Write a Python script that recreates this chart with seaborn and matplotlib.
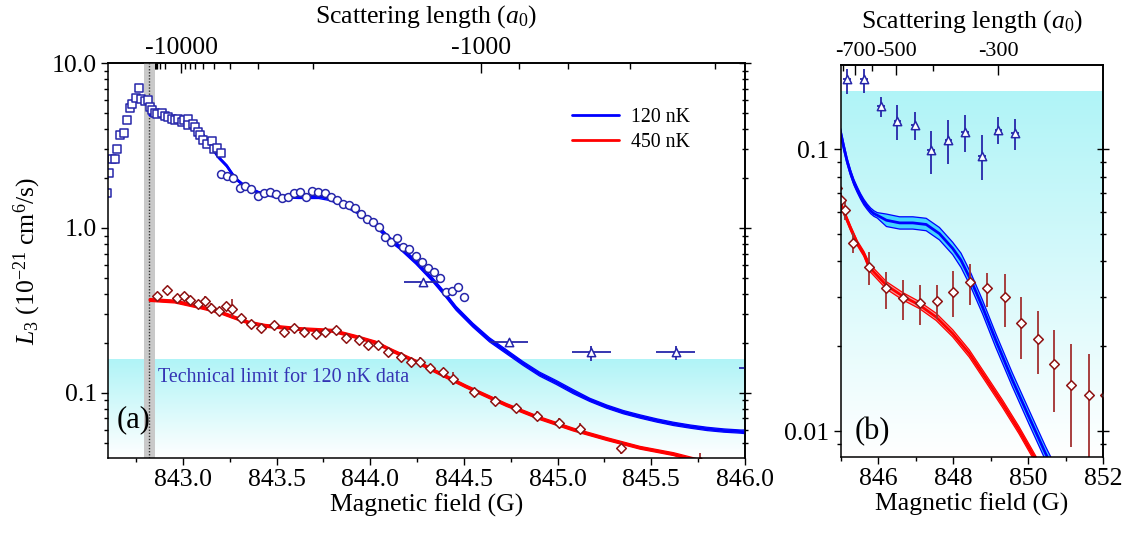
import numpy as np
import matplotlib
matplotlib.use("Agg")
import matplotlib.pyplot as plt
import seaborn as sns
from matplotlib.colors import LinearSegmentedColormap
from matplotlib.lines import Line2D
from matplotlib.ticker import (FixedLocator, MultipleLocator, LogLocator,
                               NullFormatter, FuncFormatter, FixedFormatter)

sns.set_theme(style="ticks")
plt.rcParams["font.family"] = ["Liberation Serif", "DejaVu Serif"]
plt.rcParams["mathtext.fontset"] = "custom"
plt.rcParams["mathtext.rm"] = "Liberation Serif"
plt.rcParams["mathtext.it"] = "Liberation Serif:italic"
plt.rcParams["mathtext.bf"] = "Liberation Serif:bold"
plt.rcParams["text.color"] = "black"
plt.rcParams["axes.labelcolor"] = "black"
plt.rcParams["xtick.color"] = "black"
plt.rcParams["ytick.color"] = "black"
plt.rcParams["axes.edgecolor"] = "black"

# ---------------- data: 120 nK (blue) ----------------
sq_B = [842.595, 842.605, 842.621, 842.638, 842.650, 842.666, 842.684, 842.702,
        842.716, 842.730, 842.748, 842.765, 842.778, 842.797, 842.811, 842.823,
        842.837, 842.853, 842.864, 842.886, 842.904, 842.918, 842.943, 842.957,
        842.975, 842.993, 843.007, 843.025, 843.029, 843.056, 843.065, 843.082,
        843.091, 843.109, 843.127, 843.154, 843.168, 843.184, 843.204]
sq_L = [1.64, 2.15, 2.61, 2.61, 3.02, 3.66, 3.78, 4.51, 5.32, 5.62, 6.16, 7.09,
        6.03, 5.89, 5.97, 5.39, 5.19, 4.96, 4.91, 4.96, 4.77, 4.69, 4.58, 4.51,
        4.58, 4.41, 4.51, 4.56, 4.21, 4.27, 4.08, 3.83, 3.66, 3.41, 3.23, 3.38,
        3.00, 3.05, 2.84]

circ_B = [843.204, 843.234, 843.266, 843.302, 843.333, 843.365, 843.400, 843.431,
          843.463, 843.497, 843.529, 843.561, 843.595, 843.627, 843.657, 843.690,
          843.722, 843.756, 843.788, 843.820, 843.852, 843.886, 843.918, 843.952,
          843.984, 844.016, 844.049, 844.081, 844.111, 844.141, 844.177, 844.209,
          844.244, 844.276, 844.308, 844.340, 844.372, 844.406, 844.438, 844.470,
          844.502]
circ_L = [2.12, 2.07, 2.00, 1.75, 1.80, 1.72, 1.56, 1.62, 1.65, 1.60, 1.51, 1.53,
          1.64, 1.66, 1.55, 1.68, 1.66, 1.64, 1.53, 1.48, 1.40, 1.38, 1.32, 1.21,
          1.13, 1.08, 1.01, 0.878, 0.820, 0.870, 0.764, 0.746, 0.679, 0.625, 0.574,
          0.543, 0.496, 0.408, 0.415, 0.437, 0.383]

tri_B = [844.28, 844.74, 845.18, 845.63, 846.07, 846.51, 846.97, 847.41, 847.87,
         848.31, 848.76, 849.20, 849.64]
tri_L = [0.469, 0.204, 0.177, 0.178, 0.142, 0.126, 0.122, 0.099, 0.108, 0.115,
         0.095, 0.117, 0.114]
tri_lo = [0.455, 0.196, 0.157, 0.158, 0.130, 0.108, 0.108, 0.082, 0.089, 0.098,
          0.078, 0.104, 0.099]
tri_hi = [0.480, 0.212, 0.193, 0.193, 0.153, 0.143, 0.136, 0.116, 0.127, 0.132,
          0.112, 0.130, 0.128]
tri_dB = [0.10, 0.10, 0.105, 0.105, 0.10, 0.10, 0.10, 0.10, 0.10, 0.10, 0.10,
          0.10, 0.10]

# ---------------- data: 450 nK (red) ----------------
dia_B = [842.864, 842.916, 842.966, 843.006, 843.038, 843.082, 843.118, 843.148,
         843.193, 843.231, 843.261, 843.309, 843.363, 843.418, 843.488, 843.542,
         843.591, 843.645, 843.711, 843.761, 843.815, 843.868, 843.940, 843.990,
         844.043, 844.095, 844.163, 844.217, 844.265, 844.319, 844.386, 844.440,
         844.554, 844.667, 844.780, 844.892, 845.006, 845.119, 845.340, 845.758,
         846.219, 846.658, 847.119, 847.578, 848.001, 848.452, 848.910, 849.371,
         849.811, 850.253, 850.695, 851.146, 851.604, 852.050]
dia_L = [0.387, 0.421, 0.375, 0.387, 0.366, 0.346, 0.363, 0.329, 0.315, 0.337,
         0.322, 0.284, 0.262, 0.247, 0.258, 0.233, 0.247, 0.233, 0.228, 0.235,
         0.241, 0.215, 0.210, 0.195, 0.195, 0.178, 0.166, 0.153, 0.155, 0.141,
         0.133, 0.122, 0.101, 0.0898, 0.0808, 0.0729, 0.0661, 0.0608, 0.0466,
         0.0381, 0.0321, 0.0296, 0.0285, 0.0290, 0.0312, 0.0337, 0.0321, 0.0298,
         0.0242, 0.0213, 0.0173, 0.0146, 0.0134, 0.0134]
dia_lo = [0.364, 0.396, 0.353, 0.364, 0.344, 0.325, 0.341, 0.309, 0.296, 0.317,
          0.288, 0.267, 0.246, 0.232, 0.243, 0.219, 0.232, 0.219, 0.214, 0.221,
          0.227, 0.202, 0.197, 0.183, 0.183, 0.167, 0.156, 0.144, 0.146, 0.133,
          0.125, 0.112, 0.095, 0.0844, 0.0760, 0.0685, 0.0621, 0.0562, 0.0428,
          0.0329, 0.0272, 0.0247, 0.0238, 0.0251, 0.0254, 0.0280, 0.0276, 0.0234,
          0.0181, 0.0160, 0.0117, 0.00876, 0.0072, 0.0075]
dia_hi = [0.410, 0.446, 0.398, 0.410, 0.388, 0.367, 0.385, 0.349, 0.334, 0.357,
          0.370, 0.301, 0.278, 0.262, 0.273, 0.247, 0.262, 0.247, 0.242, 0.249,
          0.255, 0.228, 0.223, 0.207, 0.207, 0.189, 0.176, 0.162, 0.164, 0.149,
          0.141, 0.133, 0.107, 0.0952, 0.0856, 0.0773, 0.0701, 0.0655, 0.0504,
          0.0432, 0.0367, 0.0345, 0.0329, 0.0331, 0.0370, 0.0393, 0.0364, 0.0362,
          0.0299, 0.0266, 0.0228, 0.0203, 0.0188, 0.0190]

# ---------------- fitted curves ----------------
blue_B = [842.823, 842.895, 842.975, 843.039, 843.091, 843.145, 843.189, 843.234,
          843.279, 843.333, 843.404, 843.493, 843.618, 843.725, 843.779, 843.850,
          843.940, 844.029, 844.118, 844.154, 844.244, 844.333, 844.404, 844.458,
          844.547, 844.636, 844.726, 844.815, 844.904, 844.994, 845.083, 845.172,
          845.262, 845.351, 845.440, 845.530, 845.619, 845.708, 845.798, 845.887,
          845.976, 846.219, 846.571, 846.923, 847.278, 847.630, 847.983, 848.205,
          848.470, 848.777, 849.132, 849.572, 850.015, 850.457, 850.650]
blue_L = [4.84, 4.77, 4.64, 4.39, 3.93, 3.18, 2.69, 2.38, 2.00, 1.78, 1.64, 1.55,
          1.55, 1.55, 1.51, 1.41, 1.24, 1.04, 0.826, 0.77, 0.62, 0.485, 0.39, 0.326,
          0.258, 0.210, 0.178, 0.151, 0.130, 0.1155, 0.1018, 0.0907, 0.0826, 0.0764,
          0.0719, 0.0680, 0.0649, 0.0625, 0.0605, 0.0591, 0.0583, 0.0560, 0.0548,
          0.0548, 0.0541, 0.0502, 0.0445, 0.0404, 0.0343, 0.0276, 0.0210, 0.0152,
          0.01124, 0.00834, 0.00740]
blue_lo = [4.773, 4.704, 4.576, 4.329, 3.876, 3.136, 2.653, 2.347, 1.972, 1.755,
           1.617, 1.529, 1.508, 1.508, 1.469, 1.372, 1.206, 1.012, 0.804, 0.749,
           0.603, 0.472, 0.379, 0.317, 0.251, 0.204, 0.173, 0.147, 0.1265, 0.1124,
           0.0990, 0.0887, 0.0807, 0.0747, 0.0703, 0.0665, 0.0634, 0.0611, 0.0591,
           0.0578, 0.0570, 0.0532, 0.0521, 0.0521, 0.0514, 0.0477, 0.0423, 0.0381,
           0.0324, 0.0261, 0.0198, 0.0144, 0.01061, 0.00788, 0.00699]
blue_hi = [4.908, 4.837, 4.705, 4.451, 3.985, 3.225, 2.728, 2.413, 2.028, 1.805,
           1.663, 1.572, 1.593, 1.593, 1.552, 1.449, 1.275, 1.069, 0.849, 0.792,
           0.637, 0.499, 0.401, 0.335, 0.265, 0.216, 0.183, 0.155, 0.1336, 0.1187,
           0.1047, 0.0928, 0.0845, 0.0782, 0.0736, 0.0696, 0.0664, 0.0639, 0.0619,
           0.0605, 0.0596, 0.0589, 0.0576, 0.0576, 0.0569, 0.0528, 0.0468, 0.0428,
           0.0363, 0.0292, 0.0222, 0.0161, 0.01190, 0.00883, 0.00784]

red_B = [842.823, 842.957, 843.082, 843.189, 843.261, 843.350, 843.440, 843.618,
         843.797, 843.922, 844.029, 844.118, 844.244, 844.386, 844.512, 844.726,
         844.904, 845.083, 845.262, 845.440, 845.619, 845.776, 846.219, 846.658,
         847.100, 847.543, 847.983, 848.425, 848.868, 849.307, 849.750, 850.102,
         850.250]
red_L = [0.366, 0.358, 0.333, 0.311, 0.290, 0.267, 0.255, 0.244, 0.238, 0.219,
         0.202, 0.180, 0.155, 0.1285, 0.1092, 0.0846, 0.0703, 0.0600, 0.0525,
         0.0465, 0.0425, 0.0380, 0.0329, 0.0301, 0.0280, 0.0254, 0.0222, 0.01886,
         0.01538, 0.01254, 0.01008, 0.00834, 0.00770]
red_lo = [0.3588, 0.3510, 0.3265, 0.3049, 0.2843, 0.2618, 0.2500, 0.2392, 0.2333,
          0.2147, 0.1980, 0.1765, 0.1520, 0.1260, 0.1071, 0.0829, 0.0689, 0.0588,
          0.0515, 0.0456, 0.0417, 0.0369, 0.0319, 0.0292, 0.0272, 0.0247, 0.0216,
          0.01831, 0.01493, 0.01217, 0.00979, 0.00810, 0.00748]
red_hi = [0.3733, 0.3652, 0.3397, 0.3172, 0.2958, 0.2723, 0.2601, 0.2489, 0.2428,
          0.2234, 0.2060, 0.1836, 0.1581, 0.1311, 0.1114, 0.0863, 0.0717, 0.0612,
          0.0536, 0.0474, 0.0434, 0.0391, 0.0339, 0.0310, 0.0288, 0.0262, 0.0229,
          0.01943, 0.01584, 0.01292, 0.01038, 0.00859, 0.00793]

LIMIT_120 = 0.16                      # technical limit for 120 nK data
GRAY_BAND = (842.791, 842.849)        # resonance position uncertainty
RES_CENTER = 842.82

# scattering length a(B) = a_bg - K / (B - B0)
RES_B0, RES_ABG, RES_K = 842.82, -30.7, 1718.0


def field_to_a(B):
    B = np.asarray(B, dtype=float)
    with np.errstate(divide="ignore", invalid="ignore"):
        return RES_ABG - RES_K / (B - RES_B0)


def a_to_field(a):
    a = np.asarray(a, dtype=float)
    with np.errstate(divide="ignore", invalid="ignore"):
        return RES_B0 - RES_K / (a - RES_ABG)


BLUE_EDGE = "#2626aa"
RED_EDGE = "#8e1212"
FS = 18.5
cyan_cmap = LinearSegmentedColormap.from_list("lim", ["#ffffff", "#b0f4f7"])

fig = plt.figure(figsize=(11.26, 5.34), dpi=100)
axa = fig.add_axes([0.0959, 0.1423, 0.5657, 0.7397])
axb = fig.add_axes([0.7466, 0.1442, 0.2334, 0.7341])


def draw_panel(ax, xlim, ylim, gray, major_y):
    frac = ((np.log10(LIMIT_120) - np.log10(ylim[0]))
            / (np.log10(ylim[1]) - np.log10(ylim[0])))
    ax.imshow(np.linspace(0, 1, 256).reshape(-1, 1), cmap=cyan_cmap,
              origin="lower", extent=(0, 1, 0, frac), transform=ax.transAxes,
              aspect="auto", zorder=0, interpolation="bilinear")
    ax.set_yscale("log")
    ax.set_xlim(*xlim)
    ax.set_ylim(*ylim)
    ax.set_autoscale_on(False)
    if gray:
        ax.axvspan(*GRAY_BAND, color="#c9c9c9", lw=0, zorder=1)
        ax.axvline(RES_CENTER, color="#333333", ls=(0, (1, 1.2)), lw=1.0, zorder=1.5)

    ax.fill_between(blue_B, blue_lo, blue_hi, color="#45d4ff", lw=0, zorder=2)
    ax.fill_between(red_B, red_lo, red_hi, color="#f3a0a0", lw=0, zorder=2)
    for yy, lw in ((blue_lo, 0.9), (blue_hi, 0.9), (blue_L, 2.0)):
        sns.lineplot(x=blue_B, y=yy, color="#0000ff", lw=lw, ax=ax,
                     sort=False, estimator=None, zorder=3)
    for yy, lw in ((red_lo, 0.9), (red_hi, 0.9), (red_L, 2.0)):
        sns.lineplot(x=red_B, y=yy, color="#ff0000", lw=lw, ax=ax,
                     sort=False, estimator=None, zorder=3)

    # error bars
    tL = np.array(tri_L)
    ax.errorbar(tri_B, tri_L, yerr=[tL - np.array(tri_lo), np.array(tri_hi) - tL],
                xerr=tri_dB, fmt="none", ecolor=BLUE_EDGE, elinewidth=1.3,
                capsize=0, zorder=4)
    dL = np.array(dia_L)
    ax.errorbar(dia_B, dia_L, yerr=[dL - np.array(dia_lo), np.array(dia_hi) - dL],
                fmt="none", ecolor="#a23030", elinewidth=1.3, capsize=0, zorder=4)

    sns.scatterplot(x=sq_B, y=sq_L, marker="s", s=26, facecolor="white",
                    edgecolor=BLUE_EDGE, linewidth=1.1, ax=ax, zorder=5)
    sns.scatterplot(x=circ_B, y=circ_L, marker="o", s=32, facecolor="white",
                    edgecolor=BLUE_EDGE, linewidth=1.1, ax=ax, zorder=5)
    sns.scatterplot(x=tri_B, y=tri_L, marker="^", s=36, facecolor="white",
                    edgecolor=BLUE_EDGE, linewidth=1.1, ax=ax, zorder=5)
    sns.scatterplot(x=dia_B, y=dia_L, marker="D", s=24, facecolor="white",
                    edgecolor=RED_EDGE, linewidth=1.1, ax=ax, zorder=5)

    ax.set_xlim(*xlim)
    ax.set_ylim(*ylim)
    for sp in ax.spines.values():
        sp.set_linewidth(1.1)
        sp.set_color("black")
        sp.set_zorder(10)
    ax.set_xlabel("Magnetic field (G)", fontsize=FS, labelpad=2)
    ax.tick_params(axis="both", which="major", direction="out", length=5,
                   width=1.0, labelsize=FS, pad=3)
    ax.tick_params(axis="both", which="minor", direction="out", length=3, width=1.0)
    ax.tick_params(axis="y", which="both", right=False)
    ax.yaxis.set_major_locator(FixedLocator(major_y))
    ax.yaxis.set_minor_locator(LogLocator(base=10, subs=np.arange(2, 10)))
    ax.yaxis.set_minor_formatter(NullFormatter())

    # mirrored ticks on the right-hand frame
    ry = ax.secondary_yaxis("right")
    ry.yaxis.set_major_locator(FixedLocator(major_y))
    ry.yaxis.set_minor_locator(LogLocator(base=10, subs=np.arange(2, 10)))
    ry.yaxis.set_major_formatter(NullFormatter())
    ry.yaxis.set_minor_formatter(NullFormatter())
    ry.tick_params(axis="y", which="major", direction="inout", length=8, width=1.0)
    ry.tick_params(axis="y", which="minor", direction="inout", length=5, width=1.0)
    return ry


# ---------- panel (a) ----------
draw_panel(axa, (842.6, 846.0), (0.0403, 10.0), True, [0.1, 1.0, 10.0])
axa.xaxis.set_major_locator(MultipleLocator(0.5))
axa.xaxis.set_minor_locator(MultipleLocator(0.25))
axa.xaxis.set_major_formatter(FuncFormatter(lambda v, p: f"{v:.1f}"))
axa.yaxis.set_major_formatter(FixedFormatter(["0.1", "1.0", "10.0"]))
axa.set_ylabel(r"$L_{\mathit{3}}$ (10$^{-21}$ cm$^{6}$/s)", fontsize=FS, labelpad=6)
axa.text(0.0785, 0.2045, "Technical limit for 120 nK data", transform=axa.transAxes,
         color="#3434b4", fontsize=14.4, ha="left", va="center", zorder=6)
axa.text(0.014, 0.098, "(a)", transform=axa.transAxes, fontsize=22,
         ha="left", va="center", zorder=6)
axa.legend(handles=[Line2D([], [], color="#0000ff", lw=2, label="120 nK"),
                    Line2D([], [], color="#ff0000", lw=2, label="450 nK")],
           loc="upper left", bbox_to_anchor=(0.728, 0.885), frameon=False,
           fontsize=14.3, handlelength=2.4, handletextpad=0.6,
           labelspacing=0.3, borderpad=0, borderaxespad=0)

seca = axa.secondary_xaxis("top", functions=(field_to_a, a_to_field))
seca.xaxis.set_major_locator(FixedLocator([-10000, -1000]))
seca.xaxis.set_major_formatter(FixedFormatter(["-10000", "-1000"]))
minor_a = ([-100000, -90000, -80000, -70000, -60000, -50000, -40000, -30000, -20000]
           + [-9000, -8000, -7000, -6000, -5000, -4000, -3000, -2000]
           + [-900, -800, -700, -600])
seca.xaxis.set_minor_locator(FixedLocator(minor_a))
seca.tick_params(axis="x", which="major", direction="in", length=7, width=1.0,
                 labelsize=FS, pad=3)
seca.tick_params(axis="x", which="minor", direction="in", length=4, width=1.0)
seca.set_xlabel(r"Scattering length ($a_{\mathit{0}}$)", fontsize=FS, labelpad=10)

# ---------- panel (b) ----------
draw_panel(axb, (845.0, 852.0), (0.0081, 0.199), False, [0.01, 0.1])
axb.xaxis.set_major_locator(FixedLocator([846, 848, 850, 852]))
axb.xaxis.set_minor_locator(FixedLocator([845, 847, 849, 851]))
axb.xaxis.set_major_formatter(FixedFormatter(["846", "848", "850", "852"]))
axb.yaxis.set_major_formatter(FixedFormatter(["0.01", "0.1"]))
axb.set_ylabel("")
axb.text(0.054, 0.064, "(b)", transform=axb.transAxes, fontsize=22,
         ha="left", va="center", zorder=6)

secb = axb.secondary_xaxis("top", functions=(field_to_a, a_to_field))
secb.xaxis.set_major_locator(FixedLocator([-700, -500, -300]))
secb.xaxis.set_major_formatter(FixedFormatter(["-700", "-500", "-300"]))
secb.xaxis.set_minor_locator(FixedLocator([-800, -600, -400]))
secb.tick_params(axis="x", which="major", direction="in", length=7, width=1.0,
                 labelsize=16, pad=3)
secb.tick_params(axis="x", which="minor", direction="in", length=4, width=1.0)
secb.set_xlabel(r"Scattering length ($a_{\mathit{0}}$)", fontsize=FS, labelpad=10)

fig.savefig("out.png", dpi=100)
